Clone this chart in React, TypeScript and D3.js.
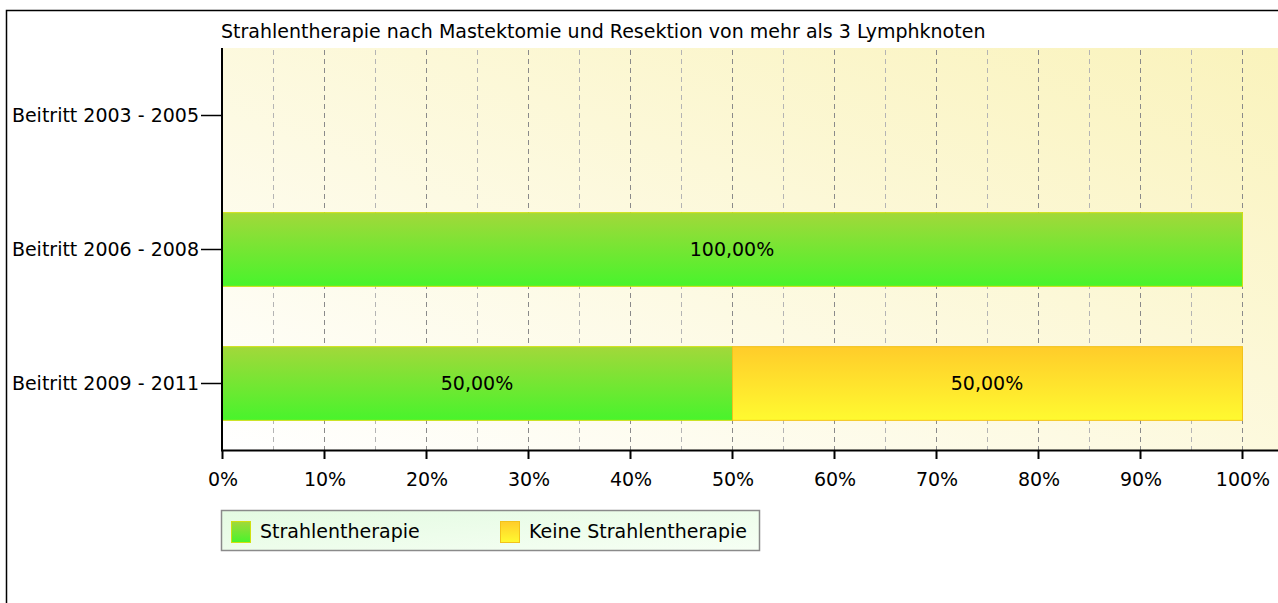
import React, { useEffect, useRef } from "react";
import * as d3 from "d3";

const categories = ["Beitritt 2003 - 2005", "Beitritt 2006 - 2008", "Beitritt 2009 - 2011"];
const seriesNames = ["Strahlentherapie", "Keine Strahlentherapie"];
const strahlenValues = [0, 100, 50];
const keineValues = [0, 0, 50];
const xTicks = [0, 10, 20, 30, 40, 50, 60, 70, 80, 90, 100];
const gridTicks = [5, 10, 15, 20, 25, 30, 35, 40, 45, 50, 55, 60, 65, 70, 75, 80, 85, 90, 95, 100];
const title = "Strahlentherapie nach Mastektomie und Resektion von mehr als 3 Lymphknoten";

const FONT = "'DejaVu Sans', Verdana, sans-serif";
const FS = 19;

const App = () => {
  const svgRef = useRef<SVGSVGElement>(null);

  useEffect(() => {
    const width = 1278;
    const height = 603;
    const plot = { left: 222, right: 1278, top: 48, bottom: 450 };

    const svg = d3.select(svgRef.current);
    svg.selectAll("*").remove();
    svg.attr("width", width).attr("height", height);

    const defs = svg.append("defs");
    const bg = defs.append("linearGradient").attr("id", "bg")
      .attr("x1", "0").attr("y1", "1").attr("x2", "1").attr("y2", "0");
    bg.append("stop").attr("offset", "0%").attr("stop-color", "#ffffff");
    bg.append("stop").attr("offset", "100%").attr("stop-color", "#faf3bc");

    const gGreen = defs.append("linearGradient").attr("id", "gGreen")
      .attr("x1", "0").attr("y1", "0").attr("x2", "0").attr("y2", "1");
    gGreen.append("stop").attr("offset", "0%").attr("stop-color", "#a2d83a");
    gGreen.append("stop").attr("offset", "100%").attr("stop-color", "#48f42c");

    const gYellow = defs.append("linearGradient").attr("id", "gYellow")
      .attr("x1", "0").attr("y1", "0").attr("x2", "0").attr("y2", "1");
    gYellow.append("stop").attr("offset", "0%").attr("stop-color", "#ffcc2a");
    gYellow.append("stop").attr("offset", "100%").attr("stop-color", "#fffa30");

    const gLegend = defs.append("linearGradient").attr("id", "gLegend")
      .attr("x1", "0").attr("y1", "0").attr("x2", "1").attr("y2", "1");
    gLegend.append("stop").attr("offset", "0%").attr("stop-color", "#e4fbe2");
    gLegend.append("stop").attr("offset", "100%").attr("stop-color", "#f6fff4");

    const fills = ["url(#gGreen)", "url(#gYellow)"];
    const strokes = ["#cfe010", "#f2c21a"];

    // outer frame
    svg.append("rect")
      .attr("x", 6.5).attr("y", 10.5)
      .attr("width", 1400).attr("height", 800)
      .attr("fill", "#ffffff").attr("stroke", "#000").attr("stroke-width", 1.5);

    const xScale = d3.scaleLinear().domain([0, 100]).range([plot.left, 1242]);
    const yScale = d3.scaleBand().domain(categories)
      .range([plot.top, plot.bottom]).paddingInner(0.45).paddingOuter(0.225);

    // plot background
    svg.append("rect")
      .attr("x", plot.left).attr("y", plot.top)
      .attr("width", plot.right - plot.left).attr("height", plot.bottom - plot.top)
      .attr("fill", "url(#bg)");

    // grid
    svg.append("g").selectAll("line").data(gridTicks).enter().append("line")
      .attr("x1", (d) => xScale(d) + 0.5).attr("x2", (d) => xScale(d) + 0.5)
      .attr("y1", plot.top + 2).attr("y2", plot.bottom)
      .attr("stroke", (d) => (d % 10 === 0 ? "#8a8a8a" : "#b4b4b4"))
      .attr("stroke-dasharray", "5,4");

    // title
    svg.append("text")
      .attr("x", plot.left - 1).attr("y", 38)
      .attr("font-family", FONT).attr("font-size", FS)
      .attr("fill", "#000")
      .text(title);

    // bars
    const table = categories.map((c, i) => ({
      category: c,
      [seriesNames[0]]: strahlenValues[i],
      [seriesNames[1]]: keineValues[i],
    }));
    const stacked = d3.stack().keys(seriesNames)(table as any);
    const fmt = d3.format(".2f");

    stacked.forEach((layer, si) => {
      const g = svg.append("g");
      g.selectAll("rect").data(layer.filter((d) => d[1] - d[0] > 0)).enter().append("rect")
        .attr("x", (d) => xScale(d[0]) + 0.5)
        .attr("y", (d) => (yScale(d.data.category as any) as number) + 0.5)
        .attr("width", (d) => xScale(d[1]) - xScale(d[0]))
        .attr("height", yScale.bandwidth())
        .attr("fill", fills[si])
        .attr("stroke", strokes[si]).attr("stroke-width", 1);
      g.selectAll("text").data(layer.filter((d) => d[1] - d[0] > 0)).enter().append("text")
        .attr("x", (d) => xScale((d[0] + d[1]) / 2))
        .attr("y", (d) => (yScale(d.data.category as any) as number) + yScale.bandwidth() / 2)
        .attr("dy", "0.35em")
        .attr("text-anchor", "middle")
        .attr("font-family", FONT).attr("font-size", FS)
        .text((d) => fmt(d[1] - d[0]).replace(".", ",") + "%");
    });

    // y axis
    const yAxis = svg.append("g");
    yAxis.append("line")
      .attr("x1", plot.left).attr("x2", plot.left)
      .attr("y1", plot.top).attr("y2", plot.bottom + 1)
      .attr("stroke", "#000").attr("stroke-width", 2);
    categories.forEach((c) => {
      const cy = (yScale(c) as number) + yScale.bandwidth() / 2;
      yAxis.append("line")
        .attr("x1", 201).attr("x2", plot.left)
        .attr("y1", cy + 0.5).attr("y2", cy + 0.5)
        .attr("stroke", "#000").attr("stroke-width", 1.5);
      yAxis.append("text")
        .attr("x", 199).attr("y", cy).attr("dy", "0.35em")
        .attr("text-anchor", "end")
        .attr("font-family", FONT).attr("font-size", FS)
        .text(c);
    });

    // x axis
    const xAxis = svg.append("g");
    xAxis.append("line")
      .attr("x1", plot.left - 1).attr("x2", plot.right)
      .attr("y1", plot.bottom + 0.5).attr("y2", plot.bottom + 0.5)
      .attr("stroke", "#000").attr("stroke-width", 2);
    xTicks.forEach((t) => {
      xAxis.append("line")
        .attr("x1", xScale(t) + 0.5).attr("x2", xScale(t) + 0.5)
        .attr("y1", plot.bottom).attr("y2", plot.bottom + 9)
        .attr("stroke", "#000").attr("stroke-width", 2);
      xAxis.append("text")
        .attr("x", xScale(t) + 1).attr("y", 479).attr("dy", "0.35em")
        .attr("text-anchor", "middle")
        .attr("font-family", FONT).attr("font-size", FS)
        .text(`${t}%`);
    });

    // legend
    const legend = svg.append("g");
    legend.append("rect")
      .attr("x", 221.5).attr("y", 510.5).attr("width", 538).attr("height", 40)
      .attr("fill", "url(#gLegend)").attr("stroke", "#8a8a8a").attr("stroke-width", 1.5);
    const legendX = [231, 500];
    seriesNames.forEach((name, i) => {
      legend.append("rect")
        .attr("x", legendX[i] + 0.5).attr("y", 521.5).attr("width", 19).attr("height", 21)
        .attr("fill", fills[i]).attr("stroke", strokes[i]);
      legend.append("text")
        .attr("x", legendX[i] + 29).attr("y", 531).attr("dy", "0.35em")
        .attr("font-family", FONT).attr("font-size", FS)
        .text(name);
    });
  }, []);

  return (
    <div style={{ position: "absolute", left: 0, top: 0 }}>
      <svg ref={svgRef} style={{ display: "block" }} />
    </div>
  );
};

export default App;
